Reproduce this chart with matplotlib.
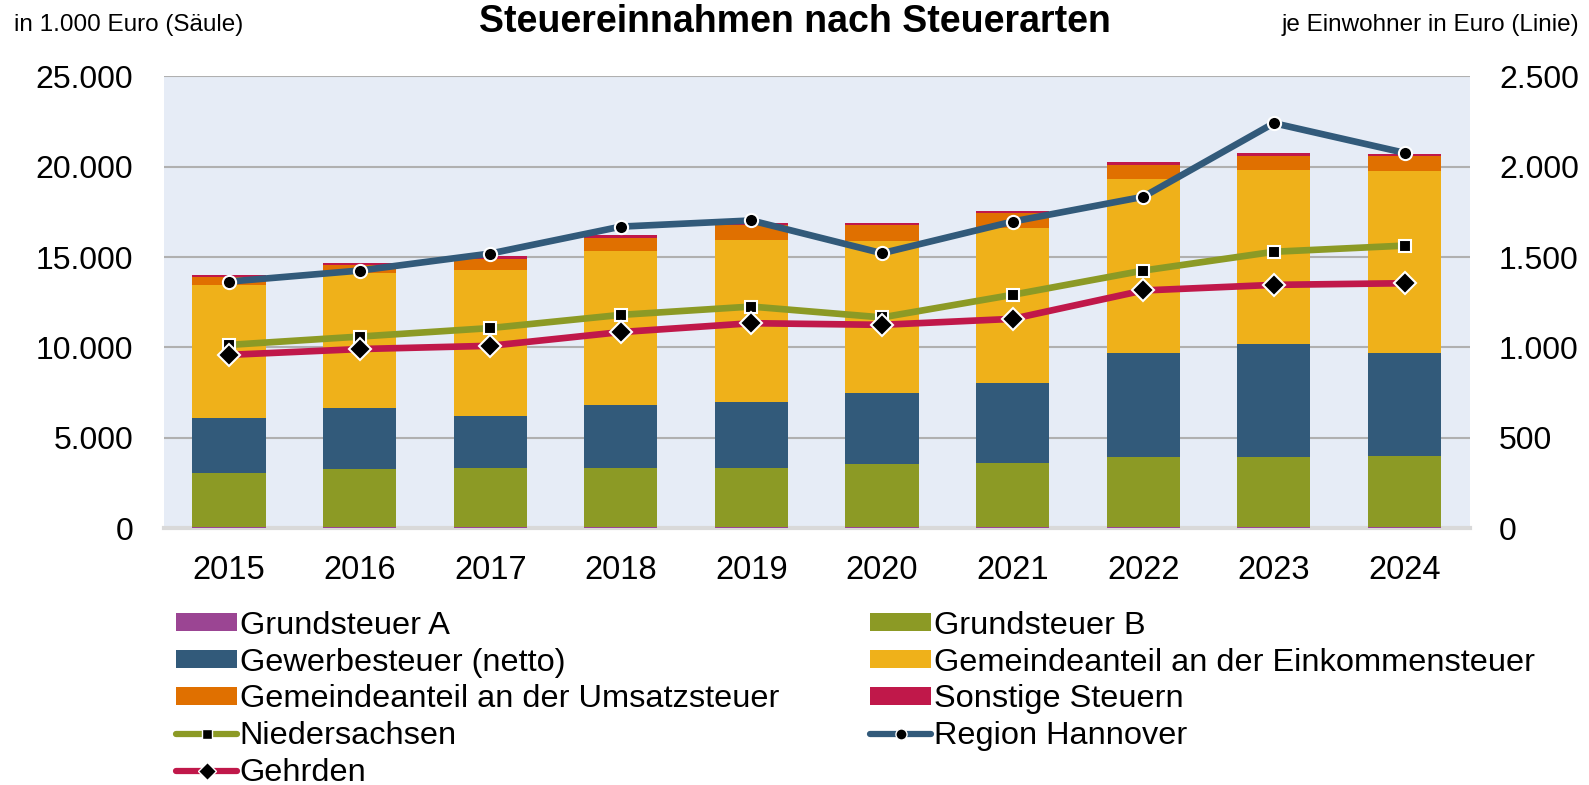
import matplotlib
matplotlib.use("Agg")
import matplotlib.pyplot as plt
from matplotlib.lines import Line2D
from matplotlib.patches import Patch
from matplotlib.ticker import FuncFormatter
import numpy as np

plt.rcParams['font.family'] = ['Liberation Sans', 'DejaVu Sans']

years = ["2015", "2016", "2017", "2018", "2019", "2020", "2021", "2022", "2023", "2024"]

# in 1.000 Euro (stacked bars)
grundsteuer_a = [60, 60, 60, 60, 60, 60, 60, 60, 60, 60]
grundsteuer_b = [3008, 3212, 3267, 3284, 3284, 3505, 3561, 3893, 3893, 3912]
gewerbesteuer = [3024, 3389, 2855, 3483, 3649, 3889, 4440, 5749, 6228, 5748]
einkommensteuer = [7368, 7480, 8125, 8513, 8955, 8439, 8551, 9618, 9636, 10060]
umsatzsteuer = [460, 425, 591, 719, 829, 884, 829, 774, 775, 812]
sonstige = [93, 128, 148, 147, 129, 129, 92, 148, 166, 129]

# je Einwohner in Euro (lines)
niedersachsen = [1014, 1060, 1107, 1180, 1226, 1166, 1291, 1425, 1529, 1563]
region_hannover = [1364, 1425, 1519, 1668, 1702, 1521, 1696, 1833, 2240, 2076]
gehrden = [959, 991, 1009, 1085, 1134, 1125, 1158, 1315, 1346, 1355]

c_a = "#9B4593"
c_b = "#8C9A25"
c_gew = "#325A7A"
c_eink = "#EFB11A"
c_ums = "#E07000"
c_sonst = "#C0184A"

def de_fmt(v, pos):
    return "{:,.0f}".format(v).replace(",", ".")

fig = plt.figure(figsize=(15.89, 7.85), dpi=100)
ax = fig.add_axes([0.103, 0.327, 0.822, 0.576])
ax2 = ax.twinx()

x = np.arange(len(years))
w = 0.56
bottom = np.zeros(len(years))
for vals, col in [(grundsteuer_a, c_a), (grundsteuer_b, c_b), (gewerbesteuer, c_gew),
                  (einkommensteuer, c_eink), (umsatzsteuer, c_ums), (sonstige, c_sonst)]:
    ax.bar(x, vals, w, bottom=bottom, color=col, zorder=3)
    bottom += np.array(vals)

ax.set_facecolor("#E6ECF6")
ax.set_xlim(-0.5, 9.5)
ax.set_ylim(0, 25000)
ax.set_yticks(range(0, 25001, 5000))
ax.yaxis.set_major_formatter(FuncFormatter(de_fmt))
ax.grid(axis="y", color="#B0B0B0", linewidth=1.5, zorder=0)
ax.set_xticks(x)
ax.set_xticklabels(years)
ax.tick_params(axis="x", length=0, labelsize=23.5, pad=19.5)
ax.tick_params(axis="y", length=0, labelsize=23, pad=22)
for s in ["top", "left", "right"]:
    ax.spines[s].set_visible(False)
    ax2.spines[s].set_visible(False)
ax.spines["bottom"].set_color("#D9D9D9")
ax.spines["bottom"].set_linewidth(3)
ax2.spines["bottom"].set_visible(False)

ax2.set_ylim(0, 2500)
ax2.set_yticks(range(0, 2501, 500))
ax2.yaxis.set_major_formatter(FuncFormatter(de_fmt))
ax2.tick_params(axis="y", length=0, labelsize=23, pad=21)

lw = 4.8
ax2.plot(x, niedersachsen, color=c_b, lw=lw, marker="s", ms=8.5, mfc="black", mec="white", mew=1.5, zorder=4)
ax2.plot(x, region_hannover, color=c_gew, lw=lw, marker="o", ms=9.5, mfc="black", mec="white", mew=1.5, zorder=4)
ax2.plot(x, gehrden, color=c_sonst, lw=lw, marker="D", ms=11, mfc="black", mec="white", mew=1.5, zorder=4)

fig.text(0.5, 0.972, "Steuereinnahmen nach Steuerarten", ha="center", va="center",
         fontsize=27, fontweight="bold")
fig.text(0.009, 0.968, "in 1.000 Euro (Säule)", ha="left", va="center", fontsize=17.5)
fig.text(0.994, 0.968, "je Einwohner in Euro (Linie)", ha="right", va="center", fontsize=17.5)

def pt(col):
    return Patch(facecolor=col, edgecolor="none")

def ln(col, m, s):
    return Line2D([], [], color=col, lw=4.5, marker=m, ms=s, mfc="black", mec="white", mew=1,
                  solid_capstyle="round")

handles = [pt(c_a), pt(c_gew), pt(c_ums), ln(c_b, "s", 7), ln(c_sonst, "D", 9),
           pt(c_b), pt(c_eink), pt(c_sonst), ln(c_gew, "o", 8)]
labels = ["Grundsteuer A", "Gewerbesteuer (netto)", "Gemeindeanteil an der Umsatzsteuer",
          "Niedersachsen", "Gehrden",
          "Grundsteuer B", "Gemeindeanteil an der Einkommensteuer", "Sonstige Steuern",
          "Region Hannover"]
fig.legend(handles, labels, ncol=2, loc="upper left", bbox_to_anchor=(0.111, 0.222),
           frameon=False, fontsize=23.4, handlelength=1.87, handleheight=0.5,
           handletextpad=0.08, labelspacing=0.21, columnspacing=2.8, borderaxespad=0,
           borderpad=0)

fig.savefig("out.png", dpi=100)
